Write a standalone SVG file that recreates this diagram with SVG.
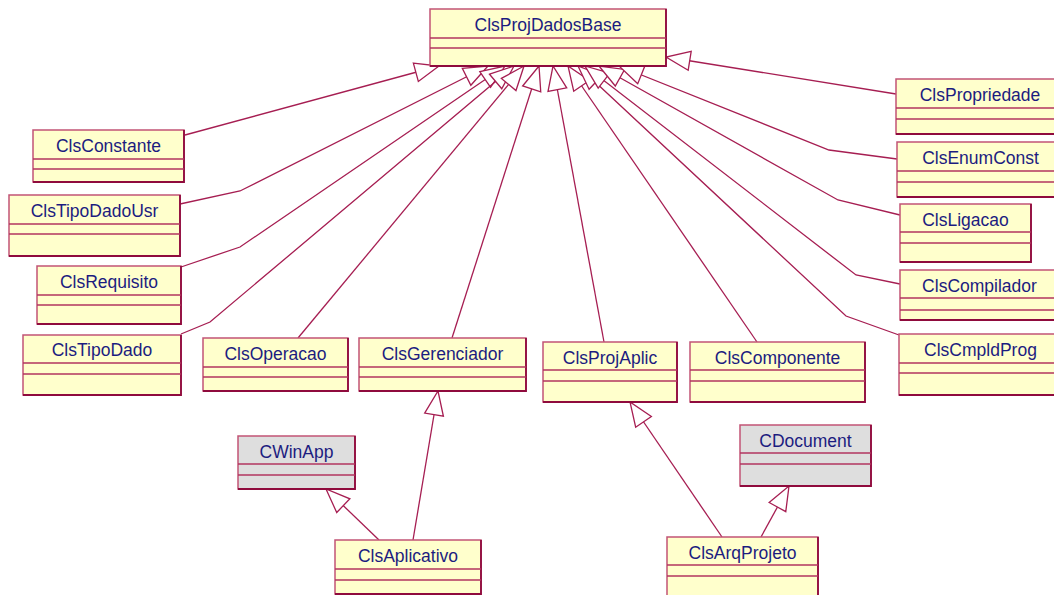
<svg xmlns="http://www.w3.org/2000/svg" width="1054" height="595" viewBox="0 0 1054 595">
<style>
.box{fill:#ffffcc;stroke:#c25475;stroke-width:1.5}
.gray{fill:#dedede}
.edge{fill:none;stroke:#8f0b3d;stroke-width:1.8}
.div{stroke:#b2355f;stroke-width:1.3}
.lbl{font-family:"Liberation Sans",Arial,sans-serif;font-size:17.5px;fill:#1c1c80;text-anchor:middle}
.conn{fill:none;stroke:#a61e52;stroke-width:1.3;marker-end:url(#tri)}
</style>
<defs>
<marker id="tri" markerUnits="userSpaceOnUse" viewBox="-2 -12 28 24" refX="24" refY="0" markerWidth="28" markerHeight="24" orient="auto">
<path d="M0,-9.5 L24,0 L0,9.5 Z" fill="#ffffff" stroke="#a61e52" stroke-width="1.3"/>
</marker>
</defs>
<rect width="1054" height="595" fill="#ffffff"/>
<g id="connectors">
<polyline class="conn" points="185,135 439,66"/>
<polyline class="conn" points="180,204 240,191 488,66"/>
<polyline class="conn" points="181,267 240,247 505,66"/>
<polyline class="conn" points="181,334 210,322 514,66"/>
<polyline class="conn" points="298,338 524,66"/>
<polyline class="conn" points="452,338 539,66"/>
<polyline class="conn" points="604,342 553,66"/>
<polyline class="conn" points="757,342 568,66"/>
<polyline class="conn" points="899,335 846,316 578,66"/>
<polyline class="conn" points="900,284 856,275 585,66"/>
<polyline class="conn" points="900,215 838,200 599,66"/>
<polyline class="conn" points="897,159 829,150 619,66"/>
<polyline class="conn" points="896,94 666,57"/>
<polyline class="conn" points="413,540 438,391"/>
<polyline class="conn" points="379,540 326,489"/>
<polyline class="conn" points="722,537 630,402"/>
<polyline class="conn" points="761,537 789,486"/>
</g>
<g id="ClsProjDadosBase">
<rect class="box" x="430" y="9" width="236" height="57"/>
<polyline class="edge" points="666,9 666,66 430,66"/>
<line class="div" x1="430" y1="38" x2="666" y2="38"/><line class="div" x1="430" y1="48" x2="666" y2="48"/>
<text class="lbl" x="548" y="31">ClsProjDadosBase</text>
</g>
<g id="ClsConstante">
<rect class="box" x="33" y="130" width="151" height="52"/>
<polyline class="edge" points="184,130 184,182 33,182"/>
<line class="div" x1="33" y1="159" x2="184" y2="159"/><line class="div" x1="33" y1="169" x2="184" y2="169"/>
<text class="lbl" x="108.5" y="152">ClsConstante</text>
</g>
<g id="ClsTipoDadoUsr">
<rect class="box" x="9" y="195" width="171" height="61"/>
<polyline class="edge" points="180,195 180,256 9,256"/>
<line class="div" x1="9" y1="224" x2="180" y2="224"/><line class="div" x1="9" y1="234" x2="180" y2="234"/>
<text class="lbl" x="94.5" y="217">ClsTipoDadoUsr</text>
</g>
<g id="ClsRequisito">
<rect class="box" x="37" y="266" width="144" height="58"/>
<polyline class="edge" points="181,266 181,324 37,324"/>
<line class="div" x1="37" y1="295" x2="181" y2="295"/><line class="div" x1="37" y1="305" x2="181" y2="305"/>
<text class="lbl" x="109" y="288">ClsRequisito</text>
</g>
<g id="ClsTipoDado">
<rect class="box" x="23" y="335" width="158" height="60"/>
<polyline class="edge" points="181,335 181,395 23,395"/>
<line class="div" x1="23" y1="363" x2="181" y2="363"/><line class="div" x1="23" y1="374" x2="181" y2="374"/>
<text class="lbl" x="102" y="356">ClsTipoDado</text>
</g>
<g id="ClsOperacao">
<rect class="box" x="203" y="338" width="145" height="53"/>
<polyline class="edge" points="348,338 348,391 203,391"/>
<line class="div" x1="203" y1="367" x2="348" y2="367"/><line class="div" x1="203" y1="377" x2="348" y2="377"/>
<text class="lbl" x="275.5" y="360">ClsOperacao</text>
</g>
<g id="ClsGerenciador">
<rect class="box" x="359" y="338" width="167" height="53"/>
<polyline class="edge" points="526,338 526,391 359,391"/>
<line class="div" x1="359" y1="367" x2="526" y2="367"/><line class="div" x1="359" y1="377" x2="526" y2="377"/>
<text class="lbl" x="442.5" y="360">ClsGerenciador</text>
</g>
<g id="ClsProjAplic">
<rect class="box" x="543" y="342" width="134" height="60"/>
<polyline class="edge" points="677,342 677,402 543,402"/>
<line class="div" x1="543" y1="370" x2="677" y2="370"/><line class="div" x1="543" y1="381" x2="677" y2="381"/>
<text class="lbl" x="610" y="364">ClsProjAplic</text>
</g>
<g id="ClsComponente">
<rect class="box" x="690" y="342" width="175" height="60"/>
<polyline class="edge" points="865,342 865,402 690,402"/>
<line class="div" x1="690" y1="370" x2="865" y2="370"/><line class="div" x1="690" y1="381" x2="865" y2="381"/>
<text class="lbl" x="777.5" y="364">ClsComponente</text>
</g>
<g id="ClsPropriedade">
<rect class="box" x="896" y="79" width="168" height="55"/>
<polyline class="edge" points="1064,134 896,134"/>
<line class="div" x1="896" y1="108" x2="1064" y2="108"/><line class="div" x1="896" y1="119" x2="1064" y2="119"/>
<text class="lbl" x="980" y="101">ClsPropriedade</text>
</g>
<g id="ClsEnumConst">
<rect class="box" x="897" y="142" width="167" height="55"/>
<polyline class="edge" points="1064,197 897,197"/>
<line class="div" x1="897" y1="171" x2="1064" y2="171"/><line class="div" x1="897" y1="182" x2="1064" y2="182"/>
<text class="lbl" x="980.5" y="164">ClsEnumConst</text>
</g>
<g id="ClsLigacao">
<rect class="box" x="900" y="204" width="131" height="58"/>
<polyline class="edge" points="1031,204 1031,262 900,262"/>
<line class="div" x1="900" y1="232" x2="1031" y2="232"/><line class="div" x1="900" y1="243" x2="1031" y2="243"/>
<text class="lbl" x="965.5" y="226">ClsLigacao</text>
</g>
<g id="ClsCompilador">
<rect class="box" x="900" y="270" width="164" height="50"/>
<polyline class="edge" points="1064,320 900,320"/>
<line class="div" x1="900" y1="298" x2="1064" y2="298"/><line class="div" x1="900" y1="310" x2="1064" y2="310"/>
<text class="lbl" x="979.5" y="292">ClsCompilador</text>
</g>
<g id="ClsCmpldProg">
<rect class="box" x="899" y="334" width="165" height="61"/>
<polyline class="edge" points="1064,395 899,395"/>
<line class="div" x1="899" y1="363" x2="1064" y2="363"/><line class="div" x1="899" y1="373" x2="1064" y2="373"/>
<text class="lbl" x="980.5" y="356">ClsCmpldProg</text>
</g>
<g id="CWinApp">
<rect class="box gray" x="238" y="436" width="117" height="53"/>
<polyline class="edge" points="355,436 355,489 238,489"/>
<line class="div" x1="238" y1="464" x2="355" y2="464"/><line class="div" x1="238" y1="475" x2="355" y2="475"/>
<text class="lbl" x="296.5" y="458">CWinApp</text>
</g>
<g id="ClsAplicativo">
<rect class="box" x="335" y="540" width="146" height="54"/>
<polyline class="edge" points="481,540 481,594 335,594"/>
<line class="div" x1="335" y1="569" x2="481" y2="569"/><line class="div" x1="335" y1="580" x2="481" y2="580"/>
<text class="lbl" x="408" y="562">ClsAplicativo</text>
</g>
<g id="CDocument">
<rect class="box gray" x="740" y="425" width="131" height="61"/>
<polyline class="edge" points="871,425 871,486 740,486"/>
<line class="div" x1="740" y1="453" x2="871" y2="453"/><line class="div" x1="740" y1="464" x2="871" y2="464"/>
<text class="lbl" x="805.5" y="447">CDocument</text>
</g>
<g id="ClsArqProjeto">
<rect class="box" x="667" y="537" width="151" height="64"/>
<polyline class="edge" points="818,537 818,601"/>
<line class="div" x1="667" y1="565" x2="818" y2="565"/><line class="div" x1="667" y1="576" x2="818" y2="576"/>
<text class="lbl" x="742.5" y="559">ClsArqProjeto</text>
</g>
</svg>
